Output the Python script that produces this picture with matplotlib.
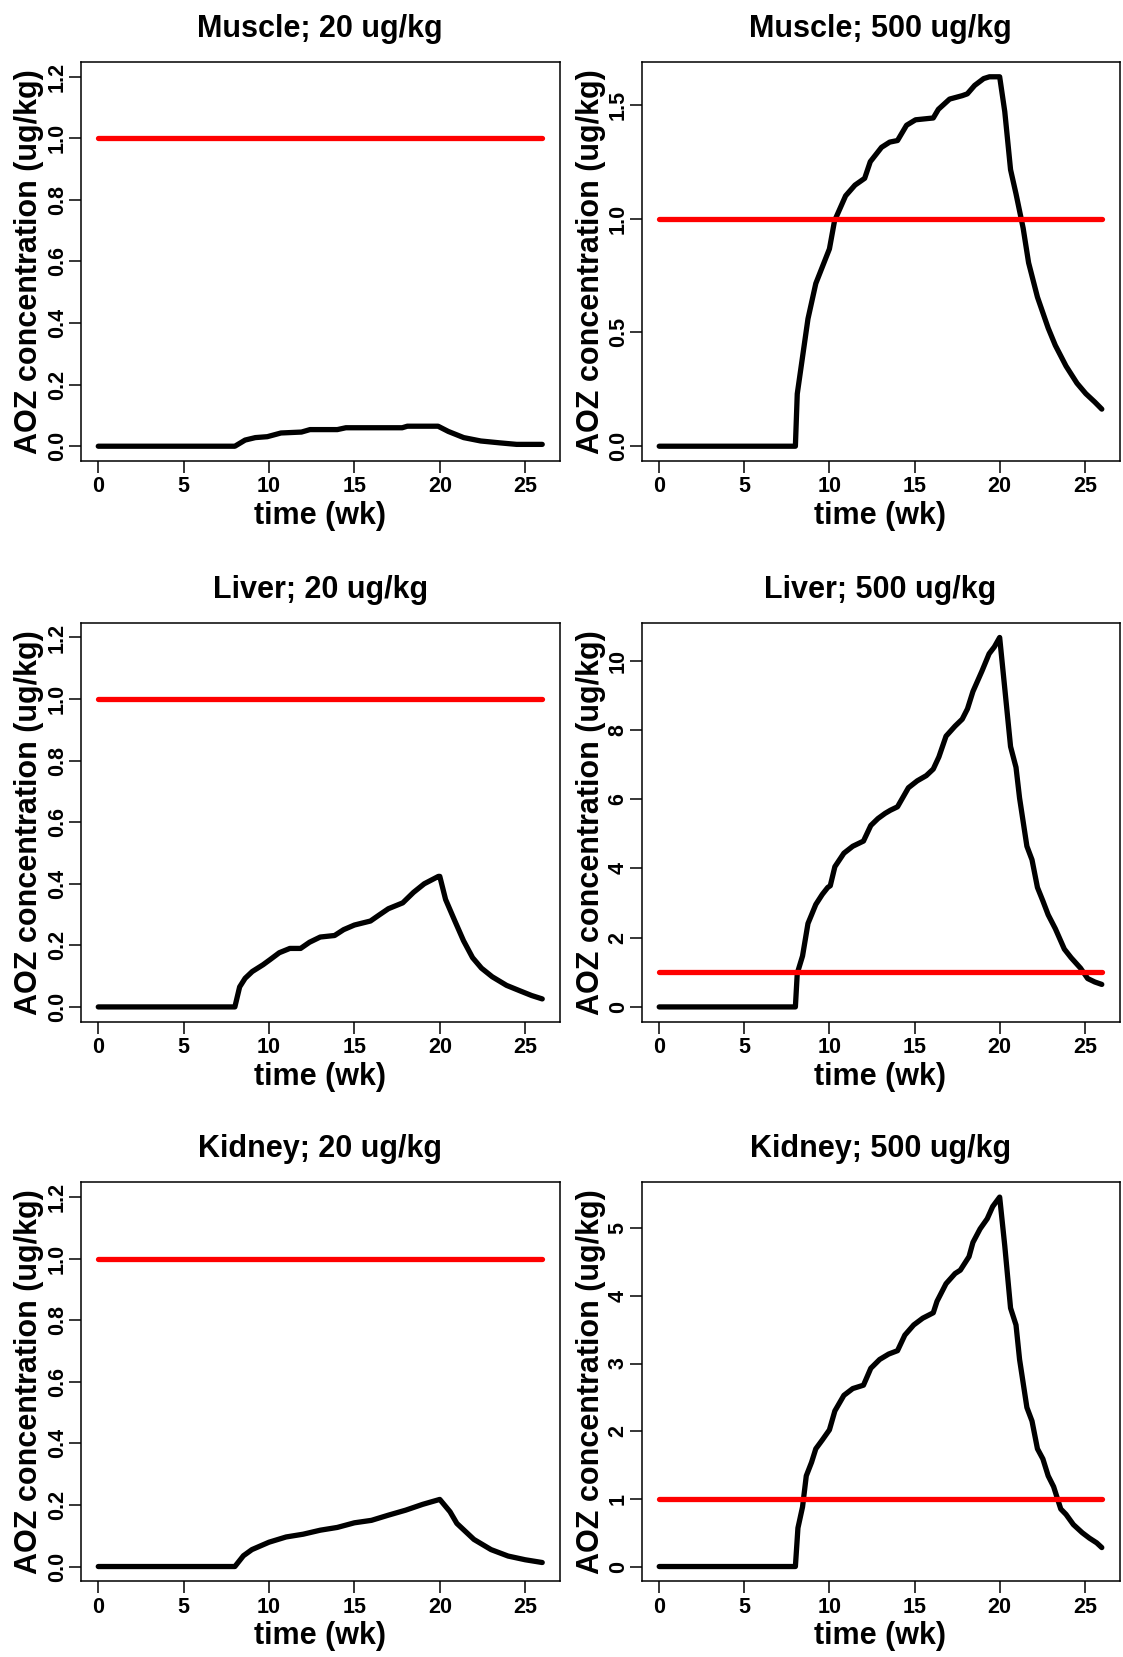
import matplotlib
matplotlib.use("Agg")
import matplotlib.pyplot as plt

plt.rcParams['font.family'] = ['Liberation Sans', 'DejaVu Sans']
plt.rcParams['font.weight'] = 'bold'

TICK_FS = 15.5

# ---------------- data ----------------
limit_t = [0, 26]
limit_y = [1, 1]

muscle_20_t = [0, 8.0, 8.3, 8.6, 9.2, 9.9, 10.7, 11.9, 12.4, 14.0, 14.5, 17.8, 18.1, 19.9, 20.5,
               21.4, 22.4, 23.5, 24.5, 26.0]
muscle_20_y = [0, 0, 0.010, 0.020, 0.028, 0.031, 0.043, 0.046, 0.054, 0.054, 0.060, 0.060, 0.065,
               0.065, 0.048, 0.028, 0.017, 0.011, 0.006, 0.006]

muscle_500_t = [0, 8.0, 8.11, 8.74, 9.2, 10.0, 10.3, 10.95, 11.5, 12.07, 12.4, 13.06, 13.54, 14.0,
                14.53, 15.06, 16.1, 16.4, 17.06, 17.8, 18.1, 18.53, 19.06, 19.4, 20.0, 20.3,
                20.64, 20.96, 21.38, 21.7, 22.22, 22.85, 23.27, 23.9, 24.54, 25.06, 25.59, 26.0]
muscle_500_y = [0, 0, 0.23, 0.56, 0.715, 0.867, 0.99, 1.10, 1.147, 1.177, 1.25, 1.313, 1.336, 1.343,
                1.41, 1.434, 1.442, 1.48, 1.525, 1.54, 1.548, 1.585, 1.615, 1.623, 1.623, 1.47,
                1.215, 1.109, 0.958, 0.806, 0.655, 0.519, 0.443, 0.352, 0.277, 0.231, 0.194, 0.163]

liver_20_t = [0, 8.0, 8.28, 8.6, 9.02, 9.65, 10.07, 10.6, 11.22, 11.85, 12.37, 13.0, 13.84, 14.37,
              15.0, 15.94, 16.46, 16.99, 17.83, 18.46, 19.09, 19.92, 20.0, 20.34, 20.86, 21.39,
              21.92, 22.44, 23.07, 23.91, 24.75, 25.38, 26.0]
liver_20_y = [0, 0, 0.065, 0.093, 0.115, 0.137, 0.154, 0.176, 0.19, 0.19, 0.21, 0.227, 0.232, 0.251,
              0.266, 0.279, 0.299, 0.319, 0.338, 0.372, 0.40, 0.424, 0.424, 0.349, 0.282, 0.215,
              0.16, 0.126, 0.098, 0.07, 0.051, 0.037, 0.026]

liver_500_t = [0, 8.0, 8.11, 8.42, 8.74, 8.95, 9.2, 9.58, 9.9, 10.05, 10.32, 10.85, 11.37, 12.0,
               12.43, 12.85, 13.27, 13.58, 14.0, 14.64, 15.16, 15.69, 16.1, 16.43, 16.85, 17.38,
               17.8, 18.11, 18.43, 18.96, 19.38, 19.69, 20.0, 20.3, 20.64, 20.96, 21.17, 21.6,
               21.9, 22.22, 22.54, 22.85, 23.27, 23.8, 24.2, 24.75, 25.17, 25.59, 26.0]
liver_500_y = [0, 0, 0.97, 1.47, 2.41, 2.66, 2.96, 3.25, 3.45, 3.5, 4.05, 4.44, 4.64, 4.79,
               5.24, 5.44, 5.59, 5.68, 5.78, 6.33, 6.53, 6.68, 6.87, 7.22, 7.82, 8.11,
               8.31, 8.61, 9.11, 9.70, 10.2, 10.4, 10.67, 9.2, 7.52, 6.92, 6.03, 4.64,
               4.25, 3.45, 3.06, 2.66, 2.26, 1.67, 1.42, 1.12, 0.82, 0.72, 0.65]

kidney_20_t = [0, 8.0, 8.5, 9.0, 10.0, 11.0, 12.0, 13.0, 14.0, 15.0, 16.0, 17.0, 18.0, 19.0, 20.0,
               20.6, 21.0, 22.0, 23.0, 24.0, 25.0, 26.0]
kidney_20_y = [0, 0, 0.035, 0.055, 0.079, 0.096, 0.105, 0.118, 0.127, 0.142, 0.150, 0.167, 0.183,
               0.202, 0.218, 0.178, 0.140, 0.088, 0.055, 0.034, 0.022, 0.013]

kidney_500_t = [0, 8.0, 8.15, 8.42, 8.64, 8.95, 9.2, 9.58, 10.0, 10.32, 10.85, 11.37, 12.0, 12.43,
                12.95, 13.48, 14.0, 14.43, 14.95, 15.48, 16.1, 16.32, 16.85, 17.38, 17.69, 18.2,
                18.43, 18.85, 19.27, 19.59, 20.0, 20.3, 20.64, 20.96, 21.17, 21.6, 21.9, 22.22,
                22.54, 22.85, 23.17, 23.59, 23.9, 24.33, 24.85, 25.27, 25.7, 26.0]
kidney_500_y = [0, 0, 0.57, 0.88, 1.34, 1.54, 1.74, 1.87, 2.02, 2.30, 2.53, 2.63, 2.68, 2.93,
                3.06, 3.14, 3.19, 3.42, 3.57, 3.67, 3.75, 3.92, 4.18, 4.33, 4.38, 4.58,
                4.79, 4.99, 5.14, 5.32, 5.46, 4.74, 3.82, 3.57, 3.06, 2.35, 2.15, 1.74,
                1.59, 1.34, 1.18, 0.85, 0.77, 0.62, 0.50, 0.42, 0.35, 0.28]

titles = ["Muscle; 20 ug/kg", "Muscle; 500 ug/kg",
          "Liver; 20 ug/kg", "Liver; 500 ug/kg",
          "Kidney; 20 ug/kg", "Kidney; 500 ug/kg"]

xticks = [0, 5, 10, 15, 20, 25]
yticks_20 = [0.0, 0.2, 0.4, 0.6, 0.8, 1.0, 1.2]
yticks_muscle_500 = [0.0, 0.5, 1.0, 1.5]
yticks_liver_500 = [0, 2, 4, 6, 8, 10]
yticks_kidney_500 = [0, 1, 2, 3, 4, 5]

xlabel = "time (wk)"
ylabel = "AOZ concentration (ug/kg)"

panels = [
    (muscle_20_t, muscle_20_y, yticks_20, "{:.1f}", 1.2),
    (muscle_500_t, muscle_500_y, yticks_muscle_500, "{:.1f}", None),
    (liver_20_t, liver_20_y, yticks_20, "{:.1f}", 1.2),
    (liver_500_t, liver_500_y, yticks_liver_500, "{:.0f}", None),
    (kidney_20_t, kidney_20_y, yticks_20, "{:.1f}", 1.2),
    (kidney_500_t, kidney_500_y, yticks_kidney_500, "{:.0f}", None),
]

# ---------------- layout ----------------
W, H = 1123, 1657
fig = plt.figure(figsize=(W / 100, H / 100), dpi=100)
col_left = [80.5, 641.5]
col_w = [479.5, 478.0]
row_top = [62.0, 622.7, 1182.3]
row_h = 399.0

LW = 3.8
for i, (t, y, yt, fmt, ytop) in enumerate(panels):
    r, c = divmod(i, 2)
    ax = fig.add_axes([col_left[c] / W, 1 - (row_top[r] + row_h) / H, col_w[c] / W, row_h / H])
    ax.plot(t, y, color='black', lw=LW, solid_capstyle='round', solid_joinstyle='round', zorder=3)
    ax.plot(limit_t, limit_y, color='#ff0000', lw=LW, solid_capstyle='round', zorder=4)

    tmin, tmax = min(t), max(t)
    dx = 0.04 * (tmax - tmin)
    ax.set_xlim(tmin - dx, tmax + dx)
    ymax = ytop if ytop is not None else max(y)
    dy = 0.04 * ymax
    ax.set_ylim(-dy, ymax + dy)

    ax.tick_params(axis='both', direction='out', length=8.6, width=1.1, labelsize=TICK_FS)
    ax.tick_params(axis='x', pad=2.5)
    ax.tick_params(axis='y', pad=0.6)
    ax.set_xticks(xticks)
    ax.set_xticklabels([str(v) for v in xticks], fontsize=TICK_FS, fontweight='bold')
    ax.set_yticks(yt)
    ax.set_yticklabels([fmt.format(v) for v in yt], rotation=90, va='center',
                       fontsize=TICK_FS, fontweight='bold')
    for s in ax.spines.values():
        s.set_linewidth(1.1)

    ax.set_title(titles[i], fontsize=22, fontweight='bold', pad=17.9)
    ax.text(0.5, -63 / row_h, xlabel, transform=ax.transAxes, ha='center', va='baseline',
            fontsize=22, fontweight='bold')
    ax.text(-43 / col_w[c], 0.5, ylabel, transform=ax.transAxes, ha='center', va='baseline',
            rotation=90, rotation_mode='anchor', fontsize=22, fontweight='bold')

fig.savefig("out.png", dpi=100)
